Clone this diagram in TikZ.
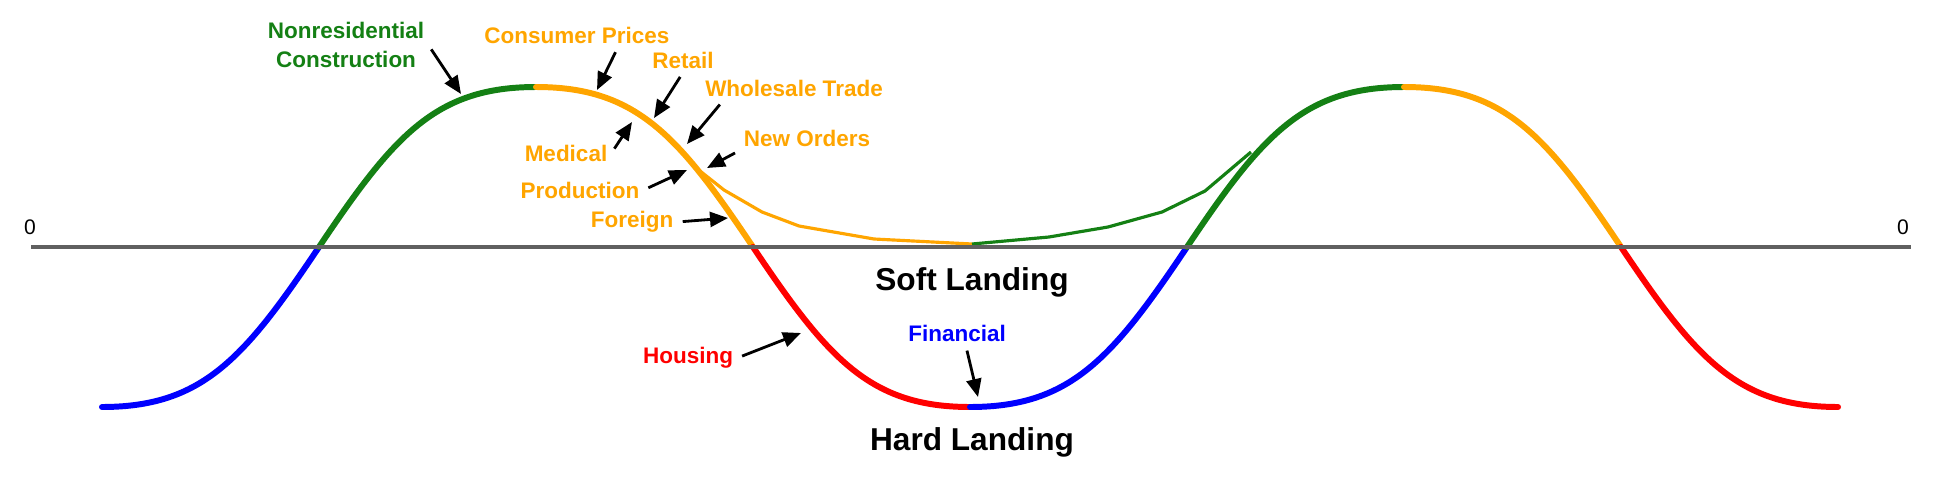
\documentclass[tikz,border=0pt]{standalone}
\usepackage{fontspec}
\setmainfont{Liberation Sans}
\usepackage{xcolor}
\usetikzlibrary{arrows.meta}

\definecolor{cyclegreen}{RGB}{20,128,20}
\definecolor{cycleorange}{RGB}{255,165,0}
\definecolor{axisgray}{RGB}{96,96,96}

\begin{document}
\begin{tikzpicture}[
    phase/.style={line width=1.7pt, line cap=round},
    soft/.style={line width=0.9pt, line join=round},
    lbl/.style={font=\fontsize{6.4}{8}\selectfont\bfseries, inner sep=1pt, align=center},
    big/.style={font=\fontsize{9}{11}\selectfont\bfseries, inner sep=1pt},
    zero/.style={font=\fontsize{6}{7}\selectfont, inner sep=0pt},
    arr/.style={-{Triangle[length=1.8mm, width=1.5mm]}, line width=0.8pt, shorten <=1.5pt}
  ]
  \useasboundingbox (0,-2.52) rectangle (19.58,2.47);
  % Turning points of the cycle
  \coordinate (s0) at (1.02,-1.6);
  \coordinate (z1) at (3.19,0);
  \coordinate (p1) at (5.36,1.6);
  \coordinate (z2) at (7.53,0);
  \coordinate (t1) at (9.70,-1.6);
  \coordinate (z3) at (11.87,0);
  \coordinate (p2) at (14.04,1.6);
  \coordinate (z4) at (16.21,0);
  \coordinate (e0) at (18.38,-1.6);
  % Main cycle
  \draw[phase, blue] (s0) .. controls +(1,0) and +(-0.75,-1.12) .. (z1);
  \draw[phase, cyclegreen] (z1) .. controls +(0.75,1.12) and +(-1,0) .. (p1);
  \draw[phase, cycleorange] (p1) .. controls +(1,0) and +(-0.75,1.12) .. (z2);
  \draw[phase, red] (z2) .. controls +(0.75,-1.12) and +(-1,0) .. (t1);
  \draw[phase, blue] (t1) .. controls +(1,0) and +(-0.75,-1.12) .. (z3);
  \draw[phase, cyclegreen] (z3) .. controls +(0.75,1.12) and +(-1,0) .. (p2);
  \draw[phase, cycleorange] (p2) .. controls +(1,0) and +(-0.75,1.12) .. (z4);
  \draw[phase, red] (z4) .. controls +(0.75,-1.12) and +(-1,0) .. (e0);
  % Soft landing path
  \coordinate (branch) at (7.00,0.76);
  \coordinate (soft) at (9.72,0.03);
  \draw[soft, cycleorange] (branch) -- (7.24,0.57) -- (7.62,0.35) -- (7.99,0.21) -- (8.74,0.08) -- (soft);
  \draw[soft, cyclegreen] (soft) -- (10.49,0.10) -- (11.08,0.20) -- (11.62,0.35) -- (12.05,0.56) -- (12.51,0.95);
  % Zero line
  \draw[axisgray, line width=1pt] (0.31,0) -- (19.11,0);
  \node[zero] (zl) at (0.30,0.20) {0};
  \node[zero] (zr) at (19.03,0.20) {0};
  % Labels
  \node[lbl, cyclegreen] (nonres) at (3.46,2.02) {Nonresidential\\Construction};
  \node[lbl, cycleorange] (cons) at (5.77,2.12) {Consumer Prices};
  \node[lbl, cycleorange] (retail) at (6.83,1.87) {Retail};
  \node[lbl, cycleorange] (whole) at (7.94,1.59) {Wholesale Trade};
  \node[lbl, cycleorange] (neword) at (8.07,1.09) {New Orders};
  \node[lbl, cycleorange] (medical) at (5.66,0.94) {Medical};
  \node[lbl, cycleorange] (prod) at (5.80,0.57) {Production};
  \node[lbl, cycleorange] (foreign) at (6.32,0.25) {Foreign};
  \node[lbl, red] (housing) at (6.88,-1.11) {Housing};
  \node[lbl, blue] (fin) at (9.57,-0.86) {Financial};
  \node[big] (softl) at (9.72,-0.35) {Soft Landing};
  \node[big] (hardl) at (9.72,-1.95) {Hard Landing};
  % Arrow tips on the curve
  \coordinate (nonresT) at (4.61,1.53);
  \coordinate (consT) at (5.97,1.57);
  \coordinate (retailT) at (6.54,1.29);
  \coordinate (wholeT) at (6.87,1.03);
  \coordinate (newordT) at (7.07,0.79);
  \coordinate (medicalT) at (6.32,1.25);
  \coordinate (prodT) at (6.87,0.77);
  \coordinate (foreignT) at (7.28,0.29);
  \coordinate (housingT) at (8.01,-0.86);
  \coordinate (finT) at (9.78,-1.50);
  \draw[arr] (nonres.east) -- (nonresT);
  \draw[arr] (cons.-17) -- (consT);
  \draw[arr] (retail.south) -- (retailT);
  \draw[arr] (whole.-170) -- (wholeT);
  \draw[arr] (neword.south west) -- (newordT);
  \draw[arr] (medical.east) -- (medicalT);
  \draw[arr] (prod.east) -- (prodT);
  \draw[arr] (foreign.east) -- (foreignT);
  \draw[arr] (housing.east) -- (housingT);
  \draw[arr] (fin.-55) -- (finT);
\end{tikzpicture}
\end{document}
